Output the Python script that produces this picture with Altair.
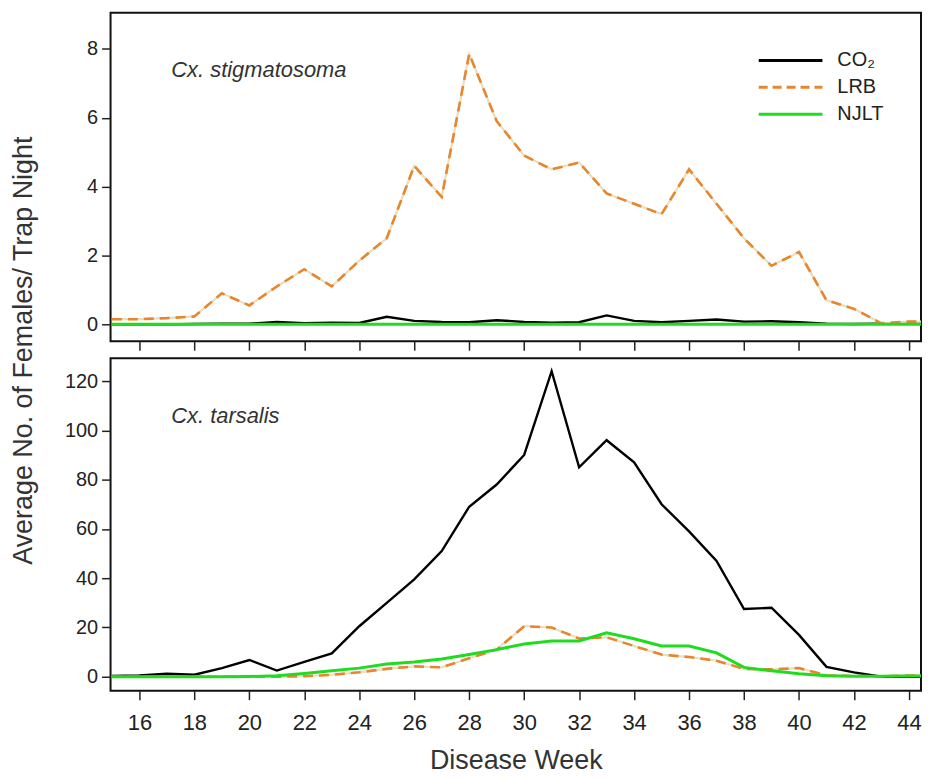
import altair as alt
import pandas as pd

weeks = list(range(15, 46))

# Cx. stigmatosoma (top panel)
stig_co2 = [0, 0, 0, 0.01, 0.02, 0.02, 0.07, 0.03, 0.05, 0.04, 0.22, 0.1, 0.07, 0.06, 0.12,
            0.07, 0.05, 0.06, 0.26, 0.1, 0.06, 0.1, 0.14, 0.08, 0.09, 0.06, 0.02, 0.01, 0.02, 0.02, 0.02]
stig_lrb = [0.15, 0.15, 0.18, 0.23, 0.9, 0.55, 1.1, 1.6, 1.1, 1.85, 2.5, 4.6, 3.7, 7.85, 5.9,
            4.9, 4.5, 4.7, 3.8, 3.5, 3.2, 4.5, 3.5, 2.5, 1.7, 2.1, 0.7, 0.45, 0.03, 0.08, 0.08]
stig_njlt = [0, 0, 0, 0, 0, 0, 0, 0, 0, 0, 0, 0, 0, 0, 0,
             0, 0, 0, 0, 0, 0, 0, 0, 0, 0, 0, 0, 0, 0, 0, 0]

# Cx. tarsalis (bottom panel)
tars_co2 = [0.3, 0.5, 1.2, 0.8, 3.5, 6.8, 2.5, 6.0, 9.5, 20.5, 30, 39.5, 51, 69, 78,
            90, 124, 85, 96, 87, 70, 59, 47, 27.5, 28, 17, 4, 1.8, 0, 0, 0]
tars_lrb = [0, 0, 0, 0, 0, 0, 0, 0.2, 0.8, 1.8, 3.2, 4.2, 3.8, 7.5, 11,
            20.5, 20, 15.5, 16, 12.5, 9, 8, 6.5, 3.2, 3, 3.5, 0.6, 0.3, 0.2, 0.5, 0.5]
tars_njlt = [0, 0, 0, 0, 0, 0.1, 0.4, 1.3, 2.4, 3.5, 5.2, 6, 7.2, 9, 11,
             13.3, 14.5, 14.5, 17.8, 15.4, 12.5, 12.5, 9.7, 3.8, 2.4, 1.2, 0.4, 0.2, 0.2, 0.3, 0.3]

series_names = ["CO₂", "LRB", "NJLT"]
x_tick_values = list(range(16, 45, 2))
top_y_ticks = [0, 2, 4, 6, 8]
bottom_y_ticks = [0, 20, 40, 60, 80, 100, 120]

FONT = "Liberation Sans"
ORANGE = "#E8862E"
GREEN = "#1FDC1F"


def panel_df(co2, lrb, njlt):
    rows = []
    for s, vals in zip(series_names, (co2, lrb, njlt)):
        for w, v in zip(weeks, vals):
            rows.append({"week": w, "value": v, "series": s})
    return pd.DataFrame(rows)


x_scale = alt.Scale(domain=[14.95, 44.44], nice=False, zero=False)


def make_panel(df, y_domain, y_ticks, bottom, label, legend):
    if bottom:
        x_axis = alt.Axis(values=x_tick_values, tickSize=9, tickWidth=1.5, tickColor="#222",
                          labelFontSize=22, labelFont=FONT, labelColor="#222", labelPadding=13,
                          labelFlush=False, domain=False, grid=False,
                          title="Disease Week", titleFont=FONT, titleFontSize=27,
                          titleFontWeight="normal", titleColor="#333", titlePadding=14)
        y_axis = alt.Axis(values=y_ticks, tickSize=9, tickWidth=1.5, tickColor="#222",
                          labelFontSize=20, labelFont=FONT, labelColor="#222", labelPadding=4,
                          domain=False, grid=False,
                          title="Average No. of Females/ Trap Night", titleFont=FONT,
                          titleFontSize=27, titleFontWeight="normal", titleColor="#333",
                          titleAngle=270, titleAlign="center", titleBaseline="middle",
                          titleX=-87, titleY=-8)
    else:
        x_axis = alt.Axis(values=x_tick_values, tickSize=9, tickWidth=1.5, tickColor="#222",
                          labels=False, domain=False, grid=False, title=None)
        y_axis = alt.Axis(values=y_ticks, tickSize=9, tickWidth=1.5, tickColor="#222",
                          labelFontSize=20, labelFont=FONT, labelColor="#222", labelPadding=4,
                          domain=False, grid=False, title=None)

    base = alt.Chart(df).encode(
        x=alt.X("week:Q", scale=x_scale, axis=x_axis),
        y=alt.Y("value:Q", scale=alt.Scale(domain=y_domain, nice=False, zero=False), axis=y_axis),
    )
    co2 = base.transform_filter(alt.datum.series == "CO₂").mark_line(
        color="black", strokeWidth=2.4, clip=True)
    lrb_under = base.transform_filter(alt.datum.series == "LRB").mark_line(
        color="#E9DFBE", strokeWidth=2.2, clip=True)
    lrb = base.transform_filter(alt.datum.series == "LRB").mark_line(
        color=ORANGE, strokeWidth=2.6, strokeDash=[10, 6], clip=True)
    njlt = base.transform_filter(alt.datum.series == "NJLT").mark_line(
        color=GREEN, strokeWidth=3, clip=True)

    layers = [co2, lrb_under, lrb, njlt]

    lab = alt.Chart(pd.DataFrame({"t": [label]})).mark_text(
        align="left", baseline="middle", font=FONT, fontSize=22, fontStyle="italic",
        color="#333").encode(x=alt.value(61), y=alt.value(58), text="t:N")
    layers.append(lab)

    if legend:
        items = [("CO₂", "black", [1, 0], 48), ("LRB", ORANGE, [9, 5], 75), ("NJLT", GREEN, [1, 0], 102)]
        for name, col, dash, yy in items:
            d = pd.DataFrame({"t": [name]})
            layers.append(alt.Chart(d).mark_rule(color=col, strokeWidth=3, strokeDash=dash).encode(
                x=alt.value(651), x2=alt.value(715), y=alt.value(yy)))
            layers.append(alt.Chart(d).mark_text(
                align="left", baseline="middle", font=FONT, fontSize=20, color="#222").encode(
                x=alt.value(730), y=alt.value(yy), text="t:N"))

    return alt.layer(*layers).properties(
        view=alt.ViewBackground(stroke="#111", strokeWidth=2, fill="white"))


top = make_panel(panel_df(stig_co2, stig_lrb, stig_njlt), [-0.49, 9.05], top_y_ticks,
                 False, "Cx.  stigmatosoma", True).properties(width=814, height=330)
bottom = make_panel(panel_df(tars_co2, tars_lrb, tars_njlt), [-5.66, 129.3], bottom_y_ticks,
                    True, "Cx. tarsalis", False).properties(width=814, height=334)

chart = alt.vconcat(top, bottom, spacing=17, bounds="flush").properties(
    padding={"left": 0, "top": 2, "right": 0, "bottom": 0}
).configure_view(stroke="#111", strokeWidth=2).configure(background="white")

chart.save("out.html", embed_options={"renderer": "svg", "actions": False})
